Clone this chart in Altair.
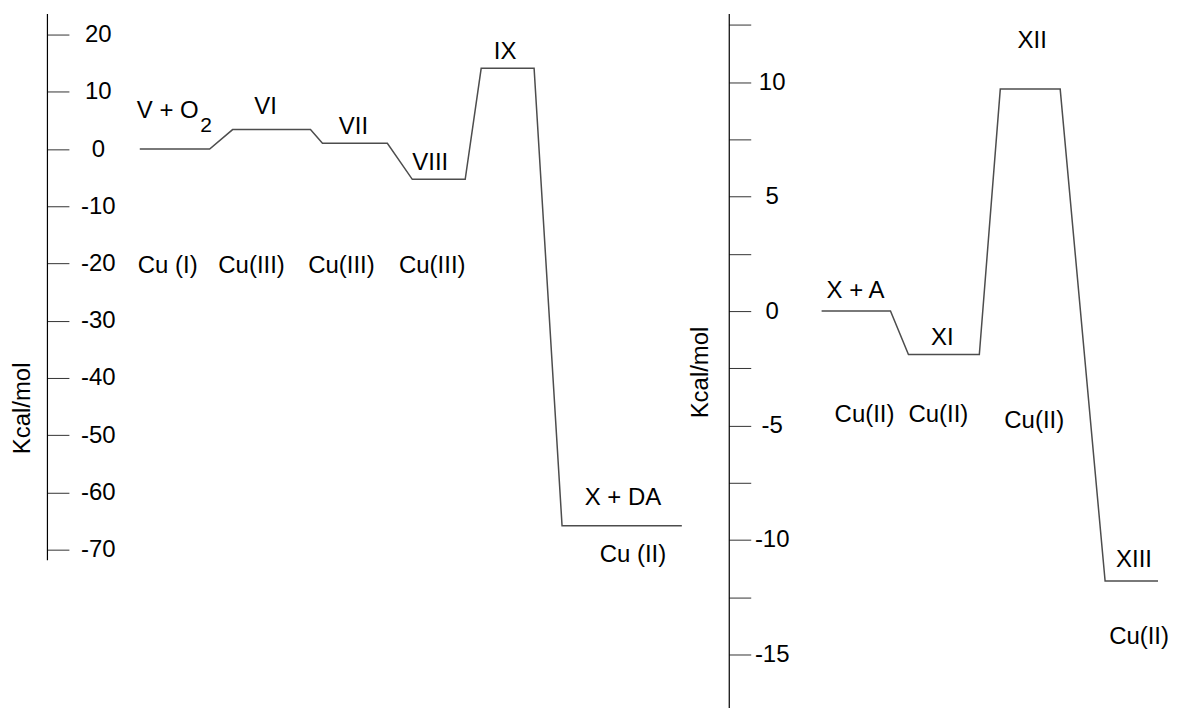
import altair as alt
import pandas as pd

FONT = "Liberation Sans"

# ---------------- left diagram (Cu(I) + O2 pathway) ----------------
left_states = ["V + O2", "VI", "VII", "VIII", "IX", "X + DA"]
left_start = [9.6, 18.9, 27.9, 36.9, 43.8, 51.9]     # reaction coordinate
left_end = [16.6, 26.7, 34.4, 42.2, 49.1, 63.9]
left_energy = [0.0, 3.4, 1.0, -5.3, 14.1, -65.8]     # kcal/mol

left_label_text = ["V + O", "VI", "VII", "VIII", "IX", "X + DA"]
left_label_x = [12.4, 22.2, 31.0, 38.7, 46.2, 58.0]
left_label_y = [5.35, 6.2, 2.7, -3.7, 15.8, -62.2]

left_sub_text = ["2"]
left_sub_x = [16.25]
left_sub_y = [2.9]

left_ox_text = ["Cu (I)", "Cu(III)", "Cu(III)", "Cu(III)", "Cu (II)"]
left_ox_x = [12.4, 20.8, 29.8, 38.9, 59.0]
left_ox_y = [-21.7, -21.7, -21.7, -21.7, -72.1]

left_ticks = [20, 10, 0, -10, -20, -30, -40, -50, -60, -70]

# ---------------- right diagram (X + A pathway) ----------------
right_states = ["X + A", "XI", "XII", "XIII"]
right_start = [9.3, 18.0, 27.2, 37.7]
right_end = [16.2, 25.1, 33.2, 43.0]
right_energy = [0.0, -1.9, 9.7, -11.8]

right_label_text = ["X + A", "XI", "XII", "XIII"]
right_label_x = [12.7, 21.4, 30.4, 40.6]
right_label_y = [0.57, -1.48, 11.5, -11.2]

right_ox_text = ["Cu(II)", "Cu(II)", "Cu(II)", "Cu(II)"]
right_ox_x = [13.6, 21.0, 30.6, 41.1]
right_ox_y = [-4.84, -4.84, -5.1, -14.57]

right_ticks = [12.5, 10, 7.5, 5, 2.5, 0, -2.5, -5, -7.5, -10, -12.5, -15, -17.5]


def path_frame(start, end, energy):
    rows = []
    i = 0
    for s, e, en in zip(start, end, energy):
        rows.append({"x": s, "e": en, "i": i}); i += 1
        rows.append({"x": e, "e": en, "i": i}); i += 1
    return pd.DataFrame(rows)


def text_frame(text, xs, ys):
    return pd.DataFrame({"t": text, "x": xs, "e": ys})


def panel(start, end, energy, labels, subs, ox, xdom, ydom, W, H, ticks,
          label_expr, label_pad, title_x, title_y):
    xs = alt.Scale(domain=xdom, nice=False, zero=False)
    ys = alt.Scale(domain=ydom, nice=False, zero=False)
    axis = alt.Axis(
        orient="right", offset=-W, values=ticks, labelExpr=label_expr,
        tickSize=22, tickColor="#333333", tickWidth=1,
        domainColor="black", domainWidth=1.2, grid=False,
        labelFont=FONT, labelFontSize=24, labelColor="black",
        labelAlign="center", labelBaseline="middle", labelPadding=label_pad,
        title="Kcal/mol", titleFont=FONT, titleFontSize=24,
        titleFontWeight="normal", titleColor="black", titleAngle=270,
        titleX=title_x, titleY=title_y, titleAlign="center",
        titleBaseline="middle",
    )
    line = alt.Chart(path_frame(start, end, energy)).mark_line(
        color="#4d4d4d", strokeWidth=1.5
    ).encode(
        x=alt.X("x:Q", scale=xs, axis=None),
        y=alt.Y("e:Q", scale=ys, axis=axis),
        order="i:Q",
    )
    layers = [line]
    for df in (labels, ox):
        layers.append(
            alt.Chart(df).mark_text(font=FONT, fontSize=24, color="black",
                                    align="center", baseline="alphabetic")
            .encode(x=alt.X("x:Q", scale=xs, axis=None),
                    y=alt.Y("e:Q", scale=ys), text="t:N")
        )
    if subs is not None:
        layers.append(
            alt.Chart(subs).mark_text(font=FONT, fontSize=21, color="black",
                                      align="center", baseline="alphabetic")
            .encode(x=alt.X("x:Q", scale=xs, axis=None),
                    y=alt.Y("e:Q", scale=ys), text="t:N")
        )
    return alt.layer(*layers).properties(width=W, height=H)


left = panel(
    left_start, left_end, left_energy,
    text_frame(left_label_text, left_label_x, left_label_y),
    text_frame(left_sub_text, left_sub_x, left_sub_y),
    text_frame(left_ox_text, left_ox_x, left_ox_y),
    [0.3, 64.5], [-71.74, 23.66], 642, 547, left_ticks,
    "'' + datum.value", 29, -24, 395,
)

right = panel(
    right_start, right_end, right_energy,
    text_frame(right_label_text, right_label_x, right_label_y),
    None,
    text_frame(right_ox_text, right_ox_x, right_ox_y),
    [0, 44], [-17.32, 13.0], 440, 695, right_ticks,
    "datum.value % 5 == 0 ? '' + datum.value : ''", 21, -28, 359,
)

chart = alt.hconcat(left, right, spacing=1).resolve_scale(
    x="independent", y="independent"
).properties(
    padding={"left": 3, "top": 5, "right": 0, "bottom": 0},
    background="white",
).configure_view(stroke=None)

chart.save("out.html", embed_options={"renderer": "svg", "actions": False})
